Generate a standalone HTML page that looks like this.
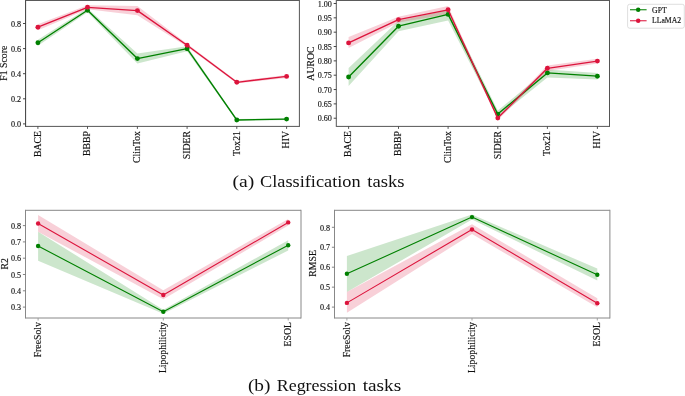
<!DOCTYPE html>
<html><head><meta charset="utf-8"><style>
html,body{margin:0;padding:0;background:#fff;}
svg{display:block;font-family:"Liberation Serif",serif;will-change:transform;}
</style></head><body>
<svg width="685" height="396" viewBox="0 0 685 396">
<rect width="685" height="396" fill="#fff"/>
<path d="M37.9,39.8 L87.5,8.3 L137.4,53.6 L187.1,46.2 L236.8,119 L286.6,118.1 L286.6,120.1 L236.8,121 L187.1,51.2 L137.4,63.6 L87.5,12.3 L37.9,45.8 Z" fill="#008000" fill-opacity="0.2" stroke="none"/>
<path d="M37.9,24.2 L87.5,5.3 L137.4,5.9 L187.1,43.8 L236.8,81.1 L286.6,74.9 L286.6,77.9 L236.8,83.5 L187.1,46.8 L137.4,15.3 L87.5,9.3 L37.9,30.2 Z" fill="#DC143C" fill-opacity="0.2" stroke="none"/>
<path d="M348.6,68 L398.5,20.7 L448.1,9.9 L497.8,110.6 L547.4,69.4 L597.4,72.9 L597.4,79.5 L547.4,77.4 L497.8,117.6 L448.1,20.4 L398.5,31.2 L348.6,86 Z" fill="#008000" fill-opacity="0.2" stroke="none"/>
<path d="M348.6,36.9 L398.5,16.7 L448.1,6.1 L497.8,116.1 L547.4,65.5 L597.4,58.7 L597.4,63.5 L547.4,71.1 L497.8,120.1 L448.1,14.3 L398.5,22.6 L348.6,47.9 Z" fill="#DC143C" fill-opacity="0.2" stroke="none"/>
<path d="M38.1,231.7 L163.3,309.7 L288.2,240.2 L288.2,250.5 L163.3,313.7 L38.1,260.7 Z" fill="#008000" fill-opacity="0.2" stroke="none"/>
<path d="M38.1,215.1 L163.3,290.3 L288.2,218.9 L288.2,225.5 L163.3,299.3 L38.1,231.7 Z" fill="#DC143C" fill-opacity="0.2" stroke="none"/>
<path d="M346.9,256 L472,214.6 L597.3,268.6 L597.3,280.5 L472,219.6 L346.9,292 Z" fill="#008000" fill-opacity="0.2" stroke="none"/>
<path d="M346.9,292 L472,224.2 L597.3,298.2 L597.3,307.3 L472,234 L346.9,312.7 Z" fill="#DC143C" fill-opacity="0.2" stroke="none"/>
<path d="M37.9,42.8 L87.5,10.3 L137.4,58.6 L187.1,48.7 L236.8,120 L286.6,119.1" fill="none" stroke="#008000" stroke-width="1.35" stroke-linejoin="round" stroke-linecap="round"/><circle cx="37.9" cy="42.8" r="2.45" fill="#008000"/><circle cx="87.5" cy="10.3" r="2.45" fill="#008000"/><circle cx="137.4" cy="58.6" r="2.45" fill="#008000"/><circle cx="187.1" cy="48.7" r="2.45" fill="#008000"/><circle cx="236.8" cy="120" r="2.45" fill="#008000"/><circle cx="286.6" cy="119.1" r="2.45" fill="#008000"/>
<path d="M37.9,27.2 L87.5,7.3 L137.4,10.6 L187.1,45.3 L236.8,82.3 L286.6,76.4" fill="none" stroke="#DC143C" stroke-width="1.35" stroke-linejoin="round" stroke-linecap="round"/><circle cx="37.9" cy="27.2" r="2.45" fill="#DC143C"/><circle cx="87.5" cy="7.3" r="2.45" fill="#DC143C"/><circle cx="137.4" cy="10.6" r="2.45" fill="#DC143C"/><circle cx="187.1" cy="45.3" r="2.45" fill="#DC143C"/><circle cx="236.8" cy="82.3" r="2.45" fill="#DC143C"/><circle cx="286.6" cy="76.4" r="2.45" fill="#DC143C"/>
<path d="M348.6,77 L398.5,26.2 L448.1,14.4 L497.8,114.1 L547.4,72.9 L597.4,76.2" fill="none" stroke="#008000" stroke-width="1.35" stroke-linejoin="round" stroke-linecap="round"/><circle cx="348.6" cy="77" r="2.45" fill="#008000"/><circle cx="398.5" cy="26.2" r="2.45" fill="#008000"/><circle cx="448.1" cy="14.4" r="2.45" fill="#008000"/><circle cx="497.8" cy="114.1" r="2.45" fill="#008000"/><circle cx="547.4" cy="72.9" r="2.45" fill="#008000"/><circle cx="597.4" cy="76.2" r="2.45" fill="#008000"/>
<path d="M348.6,42.9 L398.5,19.6 L448.1,9.8 L497.8,118.1 L547.4,68.3 L597.4,61.1" fill="none" stroke="#DC143C" stroke-width="1.35" stroke-linejoin="round" stroke-linecap="round"/><circle cx="348.6" cy="42.9" r="2.45" fill="#DC143C"/><circle cx="398.5" cy="19.6" r="2.45" fill="#DC143C"/><circle cx="448.1" cy="9.8" r="2.45" fill="#DC143C"/><circle cx="497.8" cy="118.1" r="2.45" fill="#DC143C"/><circle cx="547.4" cy="68.3" r="2.45" fill="#DC143C"/><circle cx="597.4" cy="61.1" r="2.45" fill="#DC143C"/>
<path d="M38.1,246 L163.3,311.7 L288.2,245.2" fill="none" stroke="#008000" stroke-width="1.1" stroke-linejoin="round" stroke-linecap="round"/><circle cx="38.1" cy="246" r="2.2" fill="#008000"/><circle cx="163.3" cy="311.7" r="2.2" fill="#008000"/><circle cx="288.2" cy="245.2" r="2.2" fill="#008000"/>
<path d="M38.1,223.5 L163.3,295 L288.2,222.4" fill="none" stroke="#DC143C" stroke-width="1.1" stroke-linejoin="round" stroke-linecap="round"/><circle cx="38.1" cy="223.5" r="2.2" fill="#DC143C"/><circle cx="163.3" cy="295" r="2.2" fill="#DC143C"/><circle cx="288.2" cy="222.4" r="2.2" fill="#DC143C"/>
<path d="M346.9,273.8 L472,217.1 L597.3,274.8" fill="none" stroke="#008000" stroke-width="1.1" stroke-linejoin="round" stroke-linecap="round"/><circle cx="346.9" cy="273.8" r="2.2" fill="#008000"/><circle cx="472" cy="217.1" r="2.2" fill="#008000"/><circle cx="597.3" cy="274.8" r="2.2" fill="#008000"/>
<path d="M346.9,302.9 L472,229.5 L597.3,303.2" fill="none" stroke="#DC143C" stroke-width="1.1" stroke-linejoin="round" stroke-linecap="round"/><circle cx="346.9" cy="302.9" r="2.2" fill="#DC143C"/><circle cx="472" cy="229.5" r="2.2" fill="#DC143C"/><circle cx="597.3" cy="303.2" r="2.2" fill="#DC143C"/>
<line x1="25.6" y1="0" x2="25.6" y2="126.9" stroke="#3a3a3a" stroke-width="1.0"/><line x1="299.4" y1="0" x2="299.4" y2="126.9" stroke="#555" stroke-width="1.0"/><line x1="25.6" y1="0.5" x2="299.4" y2="0.5" stroke="#5a5a5a" stroke-width="1.0"/><line x1="25.6" y1="126.4" x2="299.4" y2="126.4" stroke="#555" stroke-width="1.0"/>
<line x1="336.3" y1="0" x2="336.3" y2="126.9" stroke="#555" stroke-width="1.0"/><line x1="609.5" y1="0" x2="609.5" y2="126.9" stroke="#555" stroke-width="1.0"/><line x1="336.3" y1="0.5" x2="609.5" y2="0.5" stroke="#5a5a5a" stroke-width="1.0"/><line x1="336.3" y1="126.4" x2="609.5" y2="126.4" stroke="#555" stroke-width="1.0"/>
<line x1="25.5" y1="209.8" x2="25.5" y2="318.5" stroke="#888" stroke-width="1.0"/><line x1="301" y1="209.8" x2="301" y2="318.5" stroke="#888" stroke-width="1.0"/><line x1="25.5" y1="210.3" x2="301" y2="210.3" stroke="#888" stroke-width="1.0"/><line x1="25.5" y1="318" x2="301" y2="318" stroke="#888" stroke-width="1.0"/>
<line x1="334.5" y1="209.8" x2="334.5" y2="318.5" stroke="#888" stroke-width="1.0"/><line x1="609.9" y1="209.8" x2="609.9" y2="318.5" stroke="#888" stroke-width="1.0"/><line x1="334.5" y1="210.3" x2="609.9" y2="210.3" stroke="#888" stroke-width="1.0"/><line x1="334.5" y1="318" x2="609.9" y2="318" stroke="#888" stroke-width="1.0"/>
<g fill="#111" stroke="#111" stroke-width="0.15">
<line x1="23" y1="123.9" x2="25.6" y2="123.9" stroke="#333" stroke-width="0.9"/><text transform="translate(21.1,127.14) scale(0.9,1)" font-size="9.0" text-anchor="end">0.0</text><line x1="23" y1="98.8" x2="25.6" y2="98.8" stroke="#333" stroke-width="0.9"/><text transform="translate(21.1,102.04) scale(0.9,1)" font-size="9.0" text-anchor="end">0.2</text><line x1="23" y1="73.7" x2="25.6" y2="73.7" stroke="#333" stroke-width="0.9"/><text transform="translate(21.1,76.94) scale(0.9,1)" font-size="9.0" text-anchor="end">0.4</text><line x1="23" y1="48.6" x2="25.6" y2="48.6" stroke="#333" stroke-width="0.9"/><text transform="translate(21.1,51.84) scale(0.9,1)" font-size="9.0" text-anchor="end">0.6</text><line x1="23" y1="23.5" x2="25.6" y2="23.5" stroke="#333" stroke-width="0.9"/><text transform="translate(21.1,26.74) scale(0.9,1)" font-size="9.0" text-anchor="end">0.8</text>
<line x1="333.7" y1="3.5" x2="336.3" y2="3.5" stroke="#333" stroke-width="0.9"/><text transform="translate(331.8,6.74) scale(0.9,1)" font-size="9.0" text-anchor="end">1.00</text><line x1="333.7" y1="17.84" x2="336.3" y2="17.84" stroke="#333" stroke-width="0.9"/><text transform="translate(331.8,21.08) scale(0.9,1)" font-size="9.0" text-anchor="end">0.95</text><line x1="333.7" y1="32.18" x2="336.3" y2="32.18" stroke="#333" stroke-width="0.9"/><text transform="translate(331.8,35.42) scale(0.9,1)" font-size="9.0" text-anchor="end">0.90</text><line x1="333.7" y1="46.52" x2="336.3" y2="46.52" stroke="#333" stroke-width="0.9"/><text transform="translate(331.8,49.76) scale(0.9,1)" font-size="9.0" text-anchor="end">0.85</text><line x1="333.7" y1="60.86" x2="336.3" y2="60.86" stroke="#333" stroke-width="0.9"/><text transform="translate(331.8,64.1) scale(0.9,1)" font-size="9.0" text-anchor="end">0.80</text><line x1="333.7" y1="75.2" x2="336.3" y2="75.2" stroke="#333" stroke-width="0.9"/><text transform="translate(331.8,78.44) scale(0.9,1)" font-size="9.0" text-anchor="end">0.75</text><line x1="333.7" y1="89.54" x2="336.3" y2="89.54" stroke="#333" stroke-width="0.9"/><text transform="translate(331.8,92.78) scale(0.9,1)" font-size="9.0" text-anchor="end">0.70</text><line x1="333.7" y1="103.88" x2="336.3" y2="103.88" stroke="#333" stroke-width="0.9"/><text transform="translate(331.8,107.12) scale(0.9,1)" font-size="9.0" text-anchor="end">0.65</text><line x1="333.7" y1="118.22" x2="336.3" y2="118.22" stroke="#333" stroke-width="0.9"/><text transform="translate(331.8,121.46) scale(0.9,1)" font-size="9.0" text-anchor="end">0.60</text>
<line x1="22.9" y1="225.6" x2="25.5" y2="225.6" stroke="#777" stroke-width="0.9"/><text transform="translate(21,228.84) scale(0.9,1)" font-size="9.0" text-anchor="end">0.8</text><line x1="22.9" y1="241.9" x2="25.5" y2="241.9" stroke="#777" stroke-width="0.9"/><text transform="translate(21,245.14) scale(0.9,1)" font-size="9.0" text-anchor="end">0.7</text><line x1="22.9" y1="258.2" x2="25.5" y2="258.2" stroke="#777" stroke-width="0.9"/><text transform="translate(21,261.44) scale(0.9,1)" font-size="9.0" text-anchor="end">0.6</text><line x1="22.9" y1="274.5" x2="25.5" y2="274.5" stroke="#777" stroke-width="0.9"/><text transform="translate(21,277.74) scale(0.9,1)" font-size="9.0" text-anchor="end">0.5</text><line x1="22.9" y1="290.8" x2="25.5" y2="290.8" stroke="#777" stroke-width="0.9"/><text transform="translate(21,294.04) scale(0.9,1)" font-size="9.0" text-anchor="end">0.4</text><line x1="22.9" y1="307.1" x2="25.5" y2="307.1" stroke="#777" stroke-width="0.9"/><text transform="translate(21,310.34) scale(0.9,1)" font-size="9.0" text-anchor="end">0.3</text>
<line x1="331.9" y1="227.3" x2="334.5" y2="227.3" stroke="#777" stroke-width="0.9"/><text transform="translate(330,230.54) scale(0.9,1)" font-size="9.0" text-anchor="end">0.8</text><line x1="331.9" y1="247.25" x2="334.5" y2="247.25" stroke="#777" stroke-width="0.9"/><text transform="translate(330,250.49) scale(0.9,1)" font-size="9.0" text-anchor="end">0.7</text><line x1="331.9" y1="267.2" x2="334.5" y2="267.2" stroke="#777" stroke-width="0.9"/><text transform="translate(330,270.44) scale(0.9,1)" font-size="9.0" text-anchor="end">0.6</text><line x1="331.9" y1="287.15" x2="334.5" y2="287.15" stroke="#777" stroke-width="0.9"/><text transform="translate(330,290.39) scale(0.9,1)" font-size="9.0" text-anchor="end">0.5</text><line x1="331.9" y1="307.1" x2="334.5" y2="307.1" stroke="#777" stroke-width="0.9"/><text transform="translate(330,310.34) scale(0.9,1)" font-size="9.0" text-anchor="end">0.4</text>
<line x1="37.9" y1="126.4" x2="37.9" y2="128.9" stroke="#444" stroke-width="0.9"/><text transform="translate(37.3,131) scale(0.95,1) rotate(-90)" font-size="9.8" text-anchor="end" dominant-baseline="central">BACE</text><line x1="87.5" y1="126.4" x2="87.5" y2="128.9" stroke="#444" stroke-width="0.9"/><text transform="translate(86.9,131) scale(0.95,1) rotate(-90)" font-size="9.8" text-anchor="end" dominant-baseline="central">BBBP</text><line x1="137.4" y1="126.4" x2="137.4" y2="128.9" stroke="#444" stroke-width="0.9"/><text transform="translate(136.8,131) scale(0.95,1) rotate(-90)" font-size="9.8" text-anchor="end" dominant-baseline="central">ClinTox</text><line x1="187.1" y1="126.4" x2="187.1" y2="128.9" stroke="#444" stroke-width="0.9"/><text transform="translate(186.5,131) scale(0.95,1) rotate(-90)" font-size="9.8" text-anchor="end" dominant-baseline="central">SIDER</text><line x1="236.8" y1="126.4" x2="236.8" y2="128.9" stroke="#444" stroke-width="0.9"/><text transform="translate(236.2,131) scale(0.95,1) rotate(-90)" font-size="9.8" text-anchor="end" dominant-baseline="central">Tox21</text><line x1="286.6" y1="126.4" x2="286.6" y2="128.9" stroke="#444" stroke-width="0.9"/><text transform="translate(286,131) scale(0.95,1) rotate(-90)" font-size="9.8" text-anchor="end" dominant-baseline="central">HIV</text>
<line x1="348.6" y1="126.4" x2="348.6" y2="128.9" stroke="#444" stroke-width="0.9"/><text transform="translate(348,131) scale(0.95,1) rotate(-90)" font-size="9.8" text-anchor="end" dominant-baseline="central">BACE</text><line x1="398.5" y1="126.4" x2="398.5" y2="128.9" stroke="#444" stroke-width="0.9"/><text transform="translate(397.9,131) scale(0.95,1) rotate(-90)" font-size="9.8" text-anchor="end" dominant-baseline="central">BBBP</text><line x1="448.1" y1="126.4" x2="448.1" y2="128.9" stroke="#444" stroke-width="0.9"/><text transform="translate(447.5,131) scale(0.95,1) rotate(-90)" font-size="9.8" text-anchor="end" dominant-baseline="central">ClinTox</text><line x1="497.8" y1="126.4" x2="497.8" y2="128.9" stroke="#444" stroke-width="0.9"/><text transform="translate(497.2,131) scale(0.95,1) rotate(-90)" font-size="9.8" text-anchor="end" dominant-baseline="central">SIDER</text><line x1="547.4" y1="126.4" x2="547.4" y2="128.9" stroke="#444" stroke-width="0.9"/><text transform="translate(546.8,131) scale(0.95,1) rotate(-90)" font-size="9.8" text-anchor="end" dominant-baseline="central">Tox21</text><line x1="597.4" y1="126.4" x2="597.4" y2="128.9" stroke="#444" stroke-width="0.9"/><text transform="translate(596.8,131) scale(0.95,1) rotate(-90)" font-size="9.8" text-anchor="end" dominant-baseline="central">HIV</text>
<line x1="38.1" y1="318" x2="38.1" y2="320.5" stroke="#999" stroke-width="0.9"/><text transform="translate(37.3,322) scale(0.95,1) rotate(-90)" font-size="9.8" text-anchor="end" dominant-baseline="central">FreeSolv</text><line x1="163.3" y1="318" x2="163.3" y2="320.5" stroke="#999" stroke-width="0.9"/><text transform="translate(162.5,322) scale(0.95,1) rotate(-90)" font-size="9.8" text-anchor="end" dominant-baseline="central">Lipophilicity</text><line x1="288.2" y1="318" x2="288.2" y2="320.5" stroke="#999" stroke-width="0.9"/><text transform="translate(287.4,322) scale(0.95,1) rotate(-90)" font-size="9.8" text-anchor="end" dominant-baseline="central">ESOL</text>
<line x1="346.9" y1="318" x2="346.9" y2="320.5" stroke="#999" stroke-width="0.9"/><text transform="translate(346.1,322) scale(0.95,1) rotate(-90)" font-size="9.8" text-anchor="end" dominant-baseline="central">FreeSolv</text><line x1="472" y1="318" x2="472" y2="320.5" stroke="#999" stroke-width="0.9"/><text transform="translate(471.2,322) scale(0.95,1) rotate(-90)" font-size="9.8" text-anchor="end" dominant-baseline="central">Lipophilicity</text><line x1="597.3" y1="318" x2="597.3" y2="320.5" stroke="#999" stroke-width="0.9"/><text transform="translate(596.5,322) scale(0.95,1) rotate(-90)" font-size="9.8" text-anchor="end" dominant-baseline="central">ESOL</text>
<text transform="translate(4,63.2) scale(0.95,1) rotate(-90)" font-size="9.8" text-anchor="middle" dominant-baseline="central">F1 Score</text>
<text transform="translate(310.8,63.5) scale(0.95,1) rotate(-90)" font-size="9.8" text-anchor="middle" dominant-baseline="central">AUROC</text>
<text transform="translate(4.3,263.8) scale(0.95,1) rotate(-90)" font-size="9.8" text-anchor="middle" dominant-baseline="central">R2</text>
<text transform="translate(312.2,263.4) scale(0.95,1) rotate(-90)" font-size="9.8" text-anchor="middle" dominant-baseline="central">RMSE</text>
</g>
<rect x="627.6" y="4.3" width="56.7" height="23.9" rx="2" ry="2" fill="#fff" fill-opacity="0.8" stroke="#d6d6d6" stroke-width="0.8"/>
<line x1="630" y1="9.7" x2="646.6" y2="9.7" stroke="#008000" stroke-width="1.3" stroke-opacity="0.8"/><circle cx="638.2" cy="9.7" r="2.25" fill="#008000"/>
<line x1="630" y1="20.7" x2="646.6" y2="20.7" stroke="#DC143C" stroke-width="1.3" stroke-opacity="0.8"/><circle cx="638.2" cy="20.7" r="2.25" fill="#DC143C"/>
<g fill="#111" stroke="#111" stroke-width="0.15"><text transform="translate(652.1,12.8) scale(0.96,1)" font-size="8">GPT</text>
<text transform="translate(652.1,23.2) scale(0.96,1)" font-size="8">LLaMA2</text></g>
<text x="232.4" y="187" font-size="16.5" fill="#111" textLength="21.8" lengthAdjust="spacingAndGlyphs">(a)</text>
<text x="260" y="187" font-size="16.5" fill="#111" textLength="100.6" lengthAdjust="spacingAndGlyphs">Classification</text>
<text x="367.3" y="187" font-size="16.5" fill="#111" textLength="37.3" lengthAdjust="spacingAndGlyphs">tasks</text>
<text x="247.9" y="391.2" font-size="16.5" fill="#111" textLength="22.5" lengthAdjust="spacingAndGlyphs">(b)</text>
<text x="276.8" y="391.2" font-size="16.5" fill="#111" textLength="79.4" lengthAdjust="spacingAndGlyphs">Regression</text>
<text x="362.7" y="391.2" font-size="16.5" fill="#111" textLength="38.5" lengthAdjust="spacingAndGlyphs">tasks</text>
</svg>
</body></html>
